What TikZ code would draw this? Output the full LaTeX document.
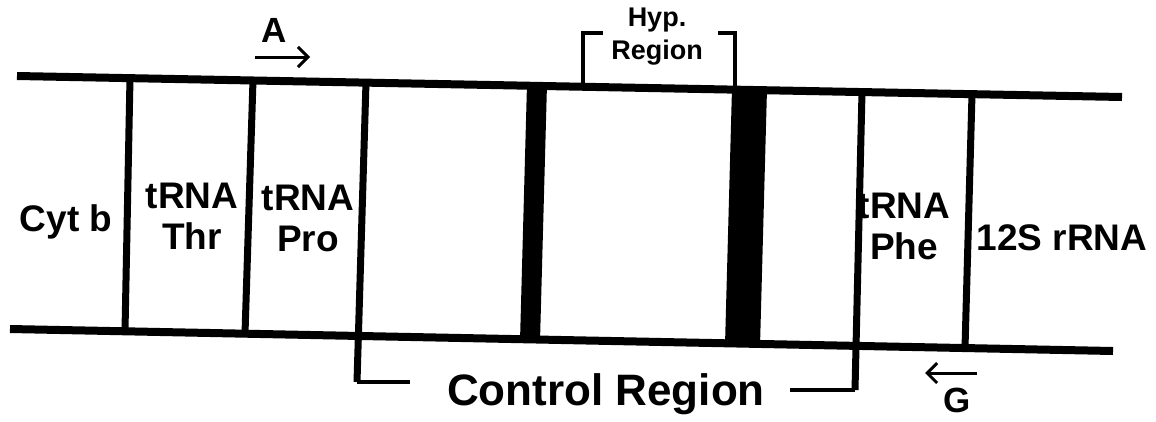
\documentclass[tikz,border=0pt]{standalone}
\usepackage{fontspec}
\setmainfont{Liberation Sans}
\usetikzlibrary{arrows.meta}

\begin{document}
\begin{tikzpicture}[x=1pt, y=-1pt,
    strand/.style={line width=8pt},
    divider/.style={line width=7pt},
    brace/.style={line width=4.5pt},
    primer/.style={line width=3pt, -{Straight Barb[length=10pt, width=20pt, line width=3pt]}},
    genelabel/.style={font=\fontsize{37}{41}\selectfont\bfseries, align=center},
]
    \useasboundingbox (0,0) rectangle (1156,421);
    % strands
    \coordinate (tl) at (17,76);
    \coordinate (tr) at (1122,97);
    \coordinate (bl) at (10,329);
    \coordinate (br) at (1113,351);
    \draw[strand] (tl) -- (tr);
    \draw[strand] (bl) -- (br);
    % gene boundaries
    \coordinate (t1) at (130,78);   \coordinate (b1) at (125,331);
    \coordinate (t2) at (253,80);   \coordinate (b2) at (245,334);
    \coordinate (t3) at (366,82);   \coordinate (b3) at (357,382);
    \coordinate (t4) at (862,92);   \coordinate (b4) at (855,390);
    \coordinate (t5) at (972,94);   \coordinate (b5) at (965,348);
    \draw[divider] (t1) -- (b1);
    \draw[divider] (t2) -- (b2);
    \draw[divider] (t3) -- (b3);
    \draw[divider] (t4) -- (b4);
    \draw[divider] (t5) -- (b5);
    % dark blocks
    \fill (527,84) -- (547,84) -- (540,341) -- (520,341) -- cycle;
    \fill (732,88) -- (767,89) -- (760,346) -- (725,345) -- cycle;
    % control region bracket
    \coordinate (cl) at (410,382);
    \coordinate (cr) at (790,390);
    \draw[brace] (b3) -- (cl);
    \draw[brace] (cr) -- (b4);
    \node (ctrl) at (606,394) {\fontsize{44}{48}\selectfont\bfseries Control Region};
    % hypervariable bracket
    \coordinate (h1) at (583,84);
    \coordinate (h2) at (603,33);
    \coordinate (h3) at (718,33);
    \coordinate (h4) at (735,88);
    \draw[brace] (h1) |- (h2);
    \draw[brace] (h3) -| (h4);
    \node[genelabel, font=\fontsize{27}{33}\selectfont\bfseries] (hyp) at (657,37) {Hyp.\\Region};
    % labels
    \node[genelabel] (cytb) at (66,222) {Cyt b};
    \node[genelabel] (thr) at (192,216) {tRNA\\Thr};
    \node[genelabel] (pro) at (308,218) {tRNA\\Pro};
    \node[genelabel] (phe) at (904,226) {tRNA\\Phe};
    \node[genelabel] (rrna) at (1062,238) {12S rRNA};
    % primers
    \coordinate (a1) at (255,57);
    \coordinate (a2) at (310,57);
    \draw[primer] (a1) -- (a2);
    \node[font=\fontsize{35}{39}\selectfont\bfseries] (pa) at (274,30) {A};
    \coordinate (g1) at (977,373);
    \coordinate (g2) at (925,373);
    \draw[primer] (g1) -- (g2);
    \node[font=\fontsize{35}{39}\selectfont\bfseries] (pg) at (957,400) {G};
\end{tikzpicture}
\end{document}
